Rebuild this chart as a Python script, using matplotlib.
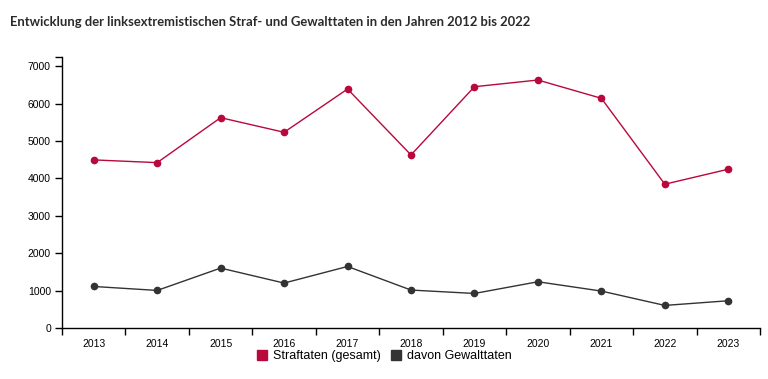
import matplotlib.pyplot as plt
from matplotlib.lines import Line2D
import numpy as np

# Data
years = ["2013", "2014", "2015", "2016", "2017", "2018", "2019", "2020", "2021", "2022", "2023"]
straftaten = [4497, 4424, 5627, 5236, 6393, 4630, 6455, 6634, 6145, 3847, 4248]
gewalttaten = [1111, 1005, 1603, 1202, 1646, 1015, 924, 1237, 988, 604, 729]
y_ticks = [0, 1000, 2000, 3000, 4000, 5000, 6000, 7000]

title = "Entwicklung der linksextremistischen Straf- und Gewalttaten in den Jahren 2012 bis 2022"
red = "#b9083c"
dark = "#333333"

plt.rcParams["font.family"] = ["Liberation Sans", "DejaVu Sans"]

fig = plt.figure(figsize=(7.68, 3.79), dpi=100)
ax = fig.add_axes([62 / 768, 1 - 328 / 379, (760 - 62) / 768, (328 - 57) / 379])

x = np.arange(len(years))
ax.plot(x, straftaten, color=red, lw=1, marker="o", ms=4.5, zorder=3)
ax.plot(x, gewalttaten, color=dark, lw=1, marker="o", ms=4.5, zorder=3)

ax.set_xlim(-0.5, len(years) - 0.5)
ax.set_ylim(0, 7250)

# band scale: labels at centers, ticks on boundaries
ax.set_xticks(x)
ax.set_xticklabels(years, fontsize=7.5)
ax.tick_params(axis="x", which="major", length=0, pad=8)
ax.set_xticks(np.arange(-0.5, len(years)), minor=True)
ax.tick_params(axis="x", which="minor", length=5, width=1)

ax.set_yticks(y_ticks)
ax.set_yticklabels([str(v) for v in y_ticks], fontsize=7.5)
ax.set_yticks([7250], minor=True)
ax.tick_params(axis="y", which="both", length=5, width=1, pad=3)

for side in ["top", "right"]:
    ax.spines[side].set_visible(False)
for side in ["left", "bottom"]:
    ax.spines[side].set_linewidth(1)
    ax.spines[side].set_color("black")

# the original uses a narrow font; Lato bold is the closest installed
t = fig.text(10 / 768, 1 - 22 / 379, title, fontsize=11, fontweight="bold",
             color="#2b2b2b", va="center", ha="left", family=["Lato", "DejaVu Sans"])
fig.canvas.draw()
w = t.get_window_extent().width
if w > 520:
    t.set_fontsize(11 * 520 / w)

handles = [
    Line2D([], [], ls="none", marker="s", ms=7.5, color=red, label="Straftaten (gesamt)"),
    Line2D([], [], ls="none", marker="s", ms=7.5, color=dark, label="davon Gewalttaten"),
]
fig.legend(handles=handles, loc="center", bbox_to_anchor=(0.5, 1 - 356 / 379),
           ncol=2, frameon=False, fontsize=9, handlelength=0.8, handletextpad=0.5,
           columnspacing=0.8, borderpad=0)

fig.savefig("out.png", dpi=100)
